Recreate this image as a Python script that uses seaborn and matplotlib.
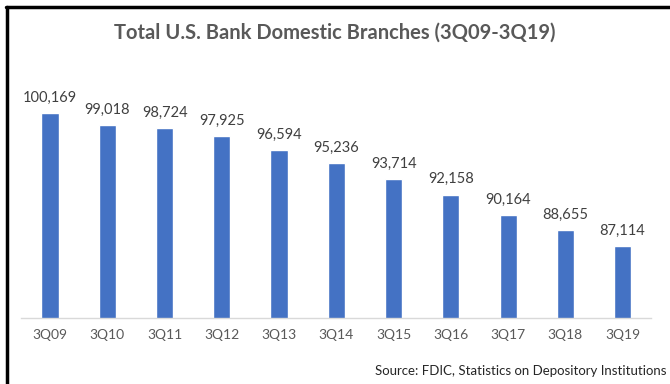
import matplotlib
matplotlib.use("Agg")
import matplotlib.pyplot as plt
import seaborn as sns
import pandas as pd

quarters = ["3Q09", "3Q10", "3Q11", "3Q12", "3Q13", "3Q14", "3Q15", "3Q16", "3Q17", "3Q18", "3Q19"]
branches = [100169, 99018, 98724, 97925, 96594, 95236, 93714, 92158, 90164, 88655, 87114]
title = "Total U.S. Bank Domestic Branches (3Q09-3Q19)"
source = "Source: FDIC, Statistics on Depository Institutions"

sns.set_theme(style="white")
plt.rcParams['font.family'] = ['Lato', 'DejaVu Sans']

df = pd.DataFrame({"quarter": quarters, "branches": branches})

fig = plt.figure(figsize=(6.7, 3.84), dpi=100)
ax = fig.add_axes([0.032, 0.172, 0.94, 0.66])
sns.barplot(data=df, x="quarter", y="branches", color="#4472C4", width=0.3,
            saturation=1, ax=ax)
ax.set_ylim(80000, 105000)
ax.set_xlim(-0.5, 10.5)
ax.set_yticks([])
ax.set_xlabel("")
ax.set_ylabel("")
for s in ["top", "right", "left"]:
    ax.spines[s].set_visible(False)
ax.spines["bottom"].set_color("#D9D9D9")
ax.spines["bottom"].set_linewidth(1)
ax.tick_params(axis="x", length=0, labelsize=10, colors="#595959", pad=8)

for i, v in enumerate(branches):
    ax.annotate(f"{v:,}", (i, v), xytext=(0, 6), textcoords="offset points",
                ha="center", va="bottom", fontsize=10.5, color="#404040")

fig.text(0.5, 0.915, title, ha="center", va="center", fontsize=14.5,
         color="#595959", fontweight="bold")
fig.text(0.995, 0.035, source, ha="right", va="center", fontsize=9.5, color="#262626")

# frame lines (top and left)
fig.add_artist(plt.Line2D([0.009, 1.0], [0.982, 0.982], color="black", lw=2.5,
                          transform=fig.transFigure))
fig.add_artist(plt.Line2D([0.01, 0.01], [0.0, 0.982], color="black", lw=2.5,
                          transform=fig.transFigure))

fig.savefig("out.png", dpi=100)
